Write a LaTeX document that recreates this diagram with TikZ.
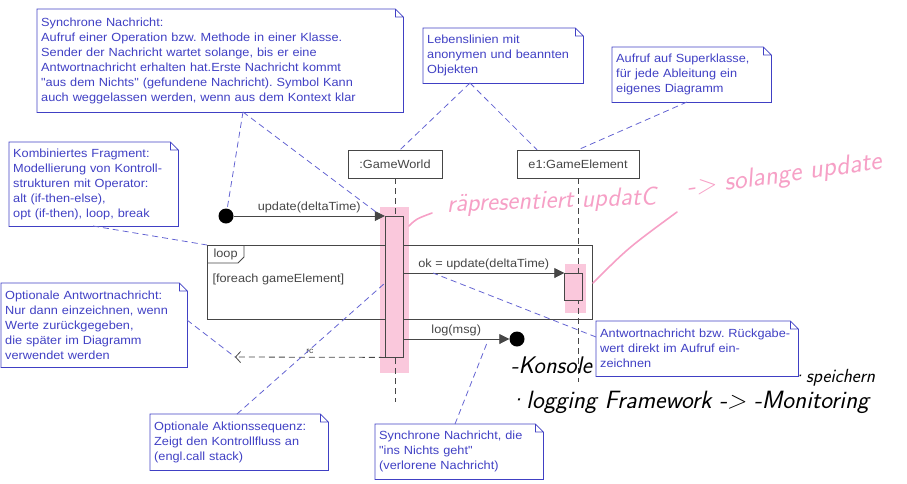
\documentclass[tikz,border=0pt]{standalone}
\usepackage{fontspec}
\newfontfamily\umlfont[FakeStretch=1.08]{Liberation Sans}
\usetikzlibrary{arrows.meta, positioning}
\frenchspacing

\definecolor{notecol}{RGB}{64,64,196}
\definecolor{linkcol}{RGB}{100,100,210}
\definecolor{umlgray}{RGB}{70,70,70}
\definecolor{marker}{RGB}{250,200,220}
\definecolor{penpink}{RGB}{246,160,198}

\tikzset{
  umltext/.style={text=umlgray, font=\umlfont\fontsize{11.8}{15}\selectfont},
  note/.style={anchor=north west, text=notecol, align=left, inner xsep=4pt, inner ysep=3pt,
    font=\umlfont\fontsize{11.8}{15}\selectfont},
  link/.style={draw=linkcol, dash pattern=on 6pt off 4pt, line width=0.8pt},
  lifebox/.style={draw=umlgray, fill=white, minimum height=28pt, inner sep=0pt, umltext},
  lifeline/.style={draw=umlgray, dash pattern=on 6pt off 4pt, line width=0.8pt},
  actbox/.style={draw=umlgray, fill=marker, minimum width=18pt, inner sep=0pt, anchor=north},
  msg/.style={draw=umlgray, line width=0.8pt, -{Triangle[length=10pt,width=10pt]}},
  retmsg/.style={draw=umlgray, line width=0.8pt, dash pattern=on 6pt off 4pt,
    -{Straight Barb[length=5pt,width=11pt]}},
  endpt/.style={circle, fill=black, minimum size=15pt, inner sep=0pt},
  pinkhand/.style={text=penpink, inner sep=0pt, font=\sffamily\itshape\fontsize{26}{26}\selectfont},
  pen/.style={text=black, inner sep=0pt, font=\sffamily\itshape\fontsize{24}{24}\selectfont}
}

% folded corner of a note
\newcommand{\notefold}[1]{%
  \draw[notecol, line width=0.8pt] (#1.north west) -- ([xshift=-8pt]#1.north east)
    -- ([yshift=-8pt]#1.north east) -- (#1.south east) -- (#1.south west) -- cycle
    ([xshift=-8pt]#1.north east) |- ([yshift=-8pt]#1.north east);}

\begin{document}
\begin{tikzpicture}[x=1pt, y=-1pt]
\useasboundingbox (0,0) rectangle (907,483);

% highlighter
\fill[marker] (380,207) rectangle (409,373);
\fill[marker] (565,264) rectangle (586,313);

% lifelines
\node[lifebox, minimum width=94pt] (gw) at (395,164) {:GameWorld};
\node[lifebox, minimum width=122pt] (ge) at (578,164) {e1:GameElement};
\coordinate (gwend) at (395,402);
\coordinate (geend) at (578,382);
\draw[lifeline] (gw) -- (gwend);
\draw[lifeline] (ge) -- (geend);

% loop fragment
\node[draw=umlgray, line width=0.8pt, minimum width=385pt, minimum height=74pt,
  inner sep=0pt, anchor=north west] (frame) at (207,245) {};
\draw[umlgray, line width=0.8pt] ([xshift=37pt]frame.north west) -- ++(0,12) -- ++(-6,6)
  -- ([yshift=-18pt]frame.north west);
\node[umltext, anchor=west] (looptag) at (210,254) {loop};
\node[umltext, anchor=west] (guard) at (209,279) {[foreach gameElement]};

% activations
\node[actbox, minimum height=141pt] (act1) at (394,216) {};
\node[actbox, minimum height=27pt] (act2) at (573.5,273) {};

% messages
\node[endpt] (found) at (226,216) {};
\node[endpt] (lost) at (517,339) {};
\draw[msg] (found) -- (act1.north west)
  node[midway, above, umltext, yshift=-1pt] {update(deltaTime)};
\draw[msg] (act1.east |- act2.north) -- (act2.north west)
  node[midway, above, umltext, yshift=-1pt] {ok = update(deltaTime)};
\draw[msg] (act1.east |- lost) -- (lost.west)
  node[midway, above, umltext, yshift=-1pt] {log(msg)};
\coordinate (rcend) at (235,357);
\draw[retmsg] (act1.south west) -- (rcend)
  node[midway, above, text=umlgray, font=\umlfont\fontsize{8}{8}\selectfont] {rc};

% notes
\node[note, text width=358pt, minimum height=103pt] (sync) at (37,9)
  {Synchrone Nachricht:\\Aufruf einer Operation bzw. Methode in einer Klasse.\\
   Sender der Nachricht wartet solange, bis er eine\\
   Antwortnachricht erhalten hat.Erste Nachricht kommt\\
   "aus dem Nichts" (gefundene Nachricht). Symbol Kann\\
   auch weggelassen werden, wenn aus dem Kontext klar};
\notefold{sync}
\node[note, text width=152pt, minimum height=55pt] (lifenote) at (423,28)
  {Lebenslinien mit\\anonymen und beannten\\Objekten};
\notefold{lifenote}
\node[note, text width=151pt, minimum height=55pt] (supernote) at (612,47)
  {Aufruf auf Superklasse,\\für jede Ableitung ein\\eigenes Diagramm};
\notefold{supernote}
\node[note, text width=161pt, minimum height=84pt] (fragnote) at (9,142)
  {Kombiniertes Fragment:\\Modellierung von Kontroll-\\strukturen mit Operator:\\
   alt (if-then-else),\\opt (if-then), loop, break};
\notefold{fragnote}
\node[note, text width=178pt, minimum height=84pt] (retnote) at (1,283)
  {Optionale Antwortnachricht:\\Nur dann einzeichnen, wenn\\Werte zurückgegeben,\\
   die später im Diagramm\\verwendet werden};
\notefold{retnote}
\node[note, text width=170pt, minimum height=56pt] (stacknote) at (150,414)
  {Optionale Aktionssequenz:\\Zeigt den Kontrollfluss an\\(engl.call stack)};
\notefold{stacknote}
\node[note, text width=194pt, minimum height=55pt] (oknote) at (596,321)
  {Antwortnachricht bzw. Rückgabe-\\wert direkt im Aufruf ein-\\zeichnen};
\notefold{oknote}
\node[note, text width=160pt, minimum height=55pt] (lostnote) at (375,424)
  {Synchrone Nachricht, die\\"ins Nichts geht"\\(verlorene Nachricht)};
\notefold{lostnote}

% note links
\coordinate (syncfoot) at (243,112);
\coordinate (updtip) at (376,212);
\coordinate (lifefoot) at (470,83);
\coordinate (superfoot) at (687,102);
\coordinate (fragfoot) at (93,226);
\coordinate (retfoot) at (187,320);
\coordinate (stackfoot) at (237,414);
\coordinate (stackpt) at (385,283);
\coordinate (okpt) at (433,273);
\coordinate (lostfoot) at (455,424);
\coordinate (logpt) at (487,343);
\draw[link] (syncfoot) -- (found);
\draw[link] (syncfoot) -- (updtip);
\draw[link] (lifefoot) -- ([xshift=5pt]gw.north);
\draw[link] (lifefoot) -- ([xshift=-41pt]ge.north);
\draw[link] (superfoot) -- (ge.north);
\draw[link] (fragfoot) -- (frame.north west);
\draw[link] (retfoot) -- (rcend);
\draw[link] (stackfoot) -- (stackpt);
\draw[link] ([yshift=-16pt]oknote.north west) -- (okpt);
\draw[link] (lostfoot) -- (logpt);

% handwritten remarks
\draw[penpink, line width=1.6pt, line cap=round] (409,226) .. controls (416,219) .. (432,213);
\draw[penpink, line width=1.6pt, line cap=round] (593,283) .. controls (628,248) .. (677,212);
\node[pinkhand, rotate=2, anchor=base west] (repr) at (447,212) {räpresentiert updatC};
\node[pinkhand, rotate=8, anchor=base west, font=\sffamily\itshape\fontsize{27}{27}\selectfont]
  (solange) at (688,196) {-> solange update};
\node[pen, anchor=base west] (konsole) at (511,373) {-Konsole};
\node[pen, anchor=base west, font=\sffamily\itshape\fontsize{25}{25}\selectfont] (logfw)
  at (508,408) {·logging Framework -> -Monitoring};
\node[pen, anchor=base west, font=\sffamily\itshape\fontsize{19}{19}\selectfont] (speichern)
  at (792,382) {·speichern};
\end{tikzpicture}
\end{document}
